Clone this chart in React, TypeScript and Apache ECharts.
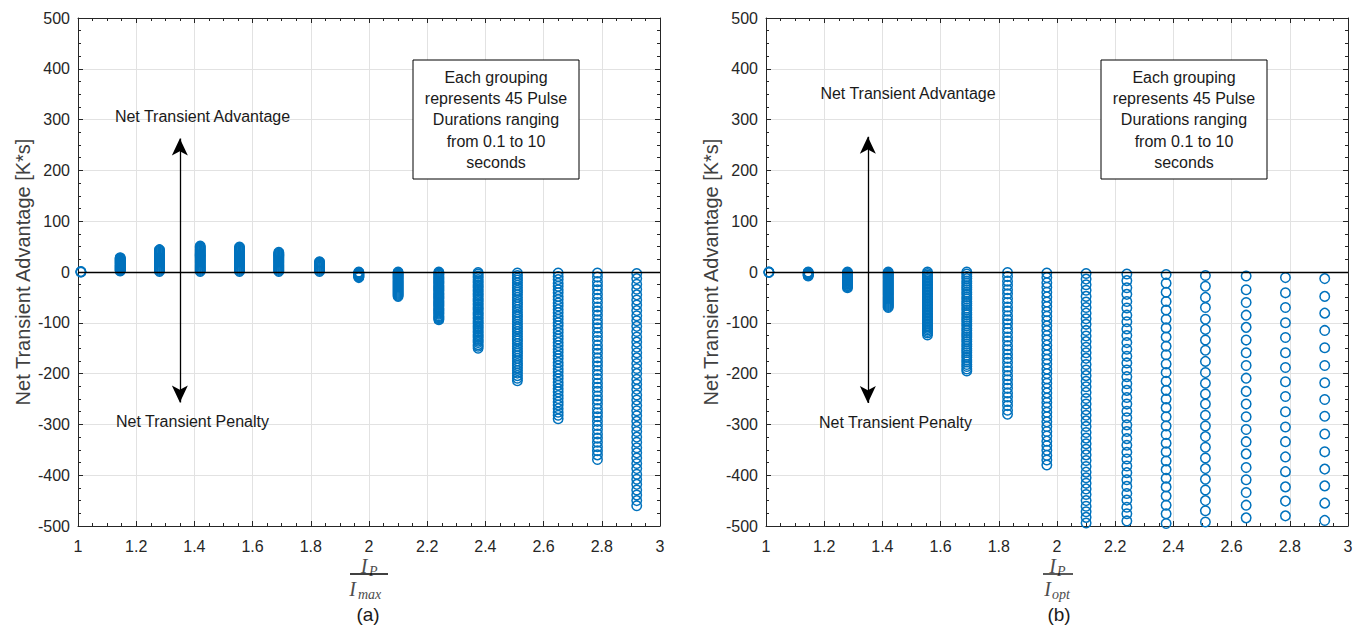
import React, { useEffect, useRef } from "react";
import * as echarts from "echarts";

// x positions of the 15 groupings (I_P / I_ref)
const xPos = [1.01, 1.145, 1.28, 1.42, 1.555, 1.69, 1.83, 1.965, 2.1, 2.24, 2.375, 2.51, 2.65, 2.785, 2.92];

// Panel (a): values per grouping [K*s]
const groupsA: number[][] = [
  [0, 0, 1],
  [2, 3, 4, 5, 6, 7, 8, 9, 10, 11, 12, 13, 14, 15, 16, 17, 18, 19, 20, 21, 22, 23, 24, 25, 26, 27, 28],
  [1, 3, 5, 7, 9, 11, 13, 15, 17, 19, 21, 23, 25, 27, 29, 31, 33, 35, 37, 39, 41, 43, 44],
  [1, 3, 5, 7, 9, 11, 13, 15, 17, 19, 21, 23, 25, 27, 29, 31, 33, 35, 37, 39, 41, 43, 45, 47, 49, 51],
  [1, 3, 5, 7, 9, 11, 13, 15, 17, 19, 21, 23, 25, 27, 29, 31, 33, 35, 37, 39, 41, 43, 45, 47, 49],
  [1, 3, 5, 7, 9, 11, 13, 15, 17, 19, 21, 23, 25, 27, 29, 31, 33, 35, 37, 39],
  [1, 3, 5, 7, 9, 11, 13, 15, 17, 19, 20],
  [0, -1, -2, -3, -4, -5, -6, -7, -8, -9, -10, -11],
  [0, -2, -4, -6, -8, -10, -12, -14, -16, -18, -20, -22, -24, -26, -28, -30, -32, -34, -36, -38, -40, -42, -44, -46, -48],
  [0, -2, -4, -6, -9, -11, -13, -15, -17, -19, -21, -23, -26, -28, -30, -32, -34, -36, -38, -41, -43, -45, -47, -49, -51, -53, -56, -58, -60, -62, -64, -66, -68, -71, -73, -75, -77, -79, -81, -83, -86, -88, -90, -92, -94],
  [-1, -4, -8, -11, -15, -18, -21, -25, -28, -31, -35, -38, -42, -45, -48, -52, -55, -58, -62, -65, -69, -72, -75, -79, -82, -85, -89, -92, -96, -99, -102, -106, -109, -112, -116, -119, -123, -126, -129, -133, -136, -139, -143, -146, -150],
  [-2, -7, -12, -16, -21, -26, -31, -36, -40, -45, -50, -55, -60, -64, -69, -74, -79, -84, -88, -93, -98, -103, -108, -112, -117, -122, -127, -132, -136, -141, -146, -151, -156, -160, -165, -170, -175, -180, -184, -189, -194, -199, -204, -209, -214],
  [-2, -9, -15, -22, -28, -35, -41, -48, -54, -61, -67, -74, -80, -87, -93, -100, -106, -113, -119, -126, -132, -139, -145, -152, -158, -165, -171, -178, -184, -191, -197, -204, -210, -217, -223, -230, -236, -243, -249, -256, -262, -269, -276, -282, -289],
  [-2, -10, -19, -27, -35, -44, -52, -60, -69, -77, -85, -94, -102, -110, -119, -127, -135, -144, -152, -160, -169, -177, -185, -194, -202, -210, -219, -227, -235, -244, -252, -260, -269, -277, -285, -294, -302, -310, -319, -327, -335, -344, -352, -360, -369],
  [-3, -13, -24, -34, -45, -55, -65, -76, -86, -96, -107, -117, -128, -138, -148, -159, -169, -180, -190, -200, -211, -221, -231, -242, -252, -263, -273, -283, -294, -304, -314, -325, -335, -346, -356, -366, -377, -387, -398, -408, -418, -429, -439, -450, -460],
];

// Panel (b): values per grouping [K*s] (points below -500 are off the axes)
const groupsB: number[][] = [
  [0, 0, -1],
  [0, -1, -2, -3, -4, -5, -6, -7, -8],
  [0, -2, -3, -5, -6, -8, -9, -11, -12, -14, -15, -17, -18, -20, -21, -23, -24, -26, -27, -29, -31],
  [0, -2, -4, -6, -8, -10, -12, -14, -16, -18, -20, -22, -24, -26, -28, -30, -32, -34, -36, -38, -40, -42, -44, -46, -48, -50, -52, -54, -56, -58, -60, -62, -64, -66, -68, -70],
  [0, -3, -6, -9, -12, -15, -18, -21, -24, -27, -30, -33, -36, -39, -42, -45, -48, -51, -54, -57, -60, -63, -66, -69, -72, -75, -78, -81, -84, -87, -90, -93, -96, -99, -102, -105, -108, -111, -114, -117, -120, -124],
  [0, -4, -9, -13, -18, -22, -27, -31, -35, -40, -44, -49, -53, -58, -62, -66, -71, -75, -80, -84, -89, -93, -97, -102, -106, -111, -115, -120, -124, -128, -133, -137, -142, -146, -151, -155, -159, -164, -168, -173, -177, -182, -186, -191, -195],
  [-1, -9, -18, -26, -35, -43, -52, -60, -69, -77, -86, -94, -102, -111, -119, -128, -136, -145, -153, -162, -170, -178, -187, -195, -204, -212, -221, -229, -238, -246, -255, -263, -272, -280],
  [-2, -11, -21, -30, -40, -49, -59, -68, -78, -87, -96, -106, -115, -125, -134, -144, -153, -163, -172, -181, -191, -200, -210, -219, -229, -238, -248, -257, -266, -276, -285, -295, -304, -314, -323, -333, -342, -351, -361, -370, -380],
  [-3, -14, -25, -36, -48, -59, -70, -81, -92, -103, -115, -126, -137, -148, -159, -170, -182, -193, -204, -215, -226, -237, -249, -260, -271, -282, -293, -304, -316, -327, -338, -349, -360, -371, -383, -394, -405, -416, -427, -438, -450, -461, -472, -483, -494],
  [-4, -17, -31, -44, -58, -71, -85, -98, -112, -125, -139, -152, -166, -179, -193, -206, -220, -233, -247, -260, -274, -287, -301, -314, -328, -341, -355, -368, -382, -395, -409, -422, -436, -449, -463, -476, -490],
  [-5, -22, -40, -58, -75, -93, -110, -128, -146, -163, -181, -198, -215, -233, -250, -267, -285, -303, -320, -337, -354, -372, -389, -406, -423, -441, -459, -476, -495],
  [-7, -28, -50, -70, -93, -113, -134, -154, -176, -198, -219, -240, -260, -282, -303, -324, -345, -366, -387, -408, -429, -450, -470, -492],
  [-8, -35, -60, -85, -109, -134, -159, -184, -209, -235, -260, -285, -310, -334, -358, -385, -409, -434, -459, -484],
  [-11, -41, -70, -100, -129, -159, -188, -216, -245, -275, -305, -334, -364, -393, -423, -451, -480],
  [-13, -48, -81, -115, -149, -184, -218, -251, -284, -319, -354, -388, -421, -455, -489],
];

// Double-headed annotation arrows: [x, yTop, yBottom]
const arrowA = [1.35, 263, -257];
const arrowB = [1.35, 266, -258];

const yAxisName = "Net Transient Advantage [K*s]";
const boxText = "Each grouping\nrepresents 45 Pulse\nDurations ranging\nfrom 0.1 to 10\nseconds";

const SANS = "'Liberation Sans', Arial, Helvetica, sans-serif";
const SERIF = "'Liberation Serif', 'DejaVu Serif', serif";
const AXIS = "#262626";
const BLUE = "#0072BD";

const toPoints = (groups: number[][]) =>
  groups.flatMap((g, i) => g.map((v) => [xPos[i], v]));

function xAxes(gridIndex: number) {
  const common = {
    gridIndex,
    type: "value",
    min: 1,
    max: 3,
    interval: 0.2,
    axisLine: { onZero: false, lineStyle: { color: AXIS, width: 1 } },
    axisTick: { inside: true, length: 5, lineStyle: { color: AXIS } },
    minorTick: { show: true, splitNumber: 4, length: 3, lineStyle: { color: AXIS } },
  };
  return [
    {
      ...common,
      position: "bottom",
      splitLine: { show: true, lineStyle: { color: "#e2e2e2", width: 1 } },
      axisLabel: { color: AXIS, fontSize: 16, margin: 12, fontFamily: SANS },
    },
    {
      ...common,
      position: "top",
      splitLine: { show: false },
      axisLabel: { show: false },
    },
  ];
}

function yAxes(gridIndex: number) {
  const common = {
    gridIndex,
    type: "value",
    min: -500,
    max: 500,
    interval: 100,
    axisLine: { onZero: false, lineStyle: { color: AXIS, width: 1 } },
    axisTick: { inside: true, length: 5, lineStyle: { color: AXIS } },
    minorTick: { show: true, splitNumber: 4, length: 3, lineStyle: { color: AXIS } },
  };
  return [
    {
      ...common,
      position: "left",
      name: yAxisName,
      nameLocation: "middle",
      nameGap: 45,
      nameTextStyle: { fontSize: 20, color: "#404040", fontFamily: SANS },
      splitLine: { show: true, lineStyle: { color: "#e2e2e2", width: 1 } },
      axisLabel: { color: AXIS, fontSize: 16, margin: 8, fontFamily: SANS },
    },
    {
      ...common,
      position: "right",
      splitLine: { show: false },
      axisLabel: { show: false },
    },
  ];
}

function panelSeries(groups: number[][], axisIdx: number, arrow: number[]) {
  return [
    {
      type: "scatter",
      xAxisIndex: axisIdx,
      yAxisIndex: axisIdx,
      data: toPoints(groups),
      symbol: "circle",
      symbolSize: 9.5,
      clip: true,
      silent: true,
      itemStyle: { color: "rgba(255,255,255,0)", borderColor: BLUE, borderWidth: 1.5, opacity: 1 },
      z: 3,
    },
    {
      type: "scatter",
      xAxisIndex: axisIdx,
      yAxisIndex: axisIdx,
      data: [],
      silent: true,
      z: 4,
      markLine: {
        silent: true,
        symbol: ["none", "none"],
        label: { show: false },
        lineStyle: { color: "#000", width: 1.4, type: "solid" },
        data: [{ yAxis: 0 }],
      },
    },
    {
      type: "scatter",
      xAxisIndex: axisIdx,
      yAxisIndex: axisIdx,
      data: [],
      silent: true,
      z: 5,
      markLine: {
        silent: true,
        symbol: ["arrow", "arrow"],
        symbolSize: [12, 17],
        label: { show: false },
        lineStyle: { color: "#000", width: 1.3, type: "solid" },
        data: [[{ coord: [arrow[0], arrow[1]] }, { coord: [arrow[0], arrow[2]] }]],
      },
    },
  ];
}

type Frac = {
  numI: number; numSubX: number; denI: number; denSubX: number; x1: number; x2: number; sub: string; tagX: number; tag: string;
};

function annotations(advXY: number[], penXY: number[], boxX: number, f: Frac) {
  const txt = (text: string, x: number, y: number, font: string, fill = "#1a1a1a", align = "center") => ({
    type: "text",
    z: 100,
    style: { text, x, y, font, fill, textAlign: align, textVerticalAlign: "middle" },
  });
  const fracColor = "#4d4d4d";
  return [
    txt("Net Transient Advantage", advXY[0], advXY[1], `16px ${SANS}`),
    txt("Net Transient Penalty", penXY[0], penXY[1], `16px ${SANS}`),
    {
      type: "rect",
      z: 100,
      shape: { x: boxX, y: 60, width: 166, height: 119 },
      style: { fill: "#fff", stroke: "#000", lineWidth: 1 },
    },
    {
      type: "text",
      z: 101,
      style: {
        text: boxText,
        x: boxX + 83,
        y: 66.5,
        font: `16px ${SANS}`,
        fill: "#1a1a1a",
        textAlign: "center",
        textVerticalAlign: "top",
        lineHeight: 21.3,
      },
    },
    // fraction x-axis label
    txt("I", f.numI, 566, `italic 20px ${SERIF}`, fracColor, "center"),
    txt("P", f.numSubX, 571, `italic 14px ${SERIF}`, fracColor, "left"),
    {
      type: "line",
      z: 100,
      shape: { x1: f.x1, y1: 574, x2: f.x2, y2: 574 },
      style: { stroke: "#000", lineWidth: 1.3 },
    },
    txt("I", f.denI, 589, `italic 20px ${SERIF}`, fracColor, "center"),
    txt(f.sub, f.denSubX, 594, `italic 14px ${SERIF}`, fracColor, "left"),
    txt(f.tag, f.tagX, 614, `19px ${SANS}`, "#1a1a1a", "center"),
  ];
}

export default function App() {
  const ref = useRef<HTMLDivElement>(null);
  useEffect(() => {
    if (!ref.current) return;
    const chart = echarts.init(ref.current, null, { renderer: "svg" });
    const option = {
      animation: false,
      backgroundColor: "#fff",
      grid: [
        { left: 78, top: 18, width: 582, height: 508 },
        { left: 766, top: 18, width: 582, height: 508 },
      ],
      xAxis: [...xAxes(0), ...xAxes(1)],
      yAxis: [...yAxes(0), ...yAxes(1)],
      series: [
        ...panelSeries(groupsA, 0, arrowA),
        ...panelSeries(groupsB, 2, arrowB),
      ],
      graphic: [
        ...annotations([202.5, 116], [192.5, 421.5], 413, {
          numI: 364, numSubX: 369, denI: 352.5, denSubX: 358, x1: 350, x2: 388, sub: "max", tagX: 368, tag: "(a)",
        }),
        ...annotations([908, 93], [895.5, 422.5], 1101, {
          numI: 1052.5, numSubX: 1057, denI: 1047.5, denSubX: 1052, x1: 1043, x2: 1073, sub: "opt", tagX: 1059, tag: "(b)",
        }),
      ],
    };
    chart.setOption(option as any);
    return () => chart.dispose();
  }, []);
  return (
    <div
      ref={ref}
      style={{ position: "fixed", left: 0, top: 0, width: 1364, height: 625, background: "#fff" }}
    />
  );
}
